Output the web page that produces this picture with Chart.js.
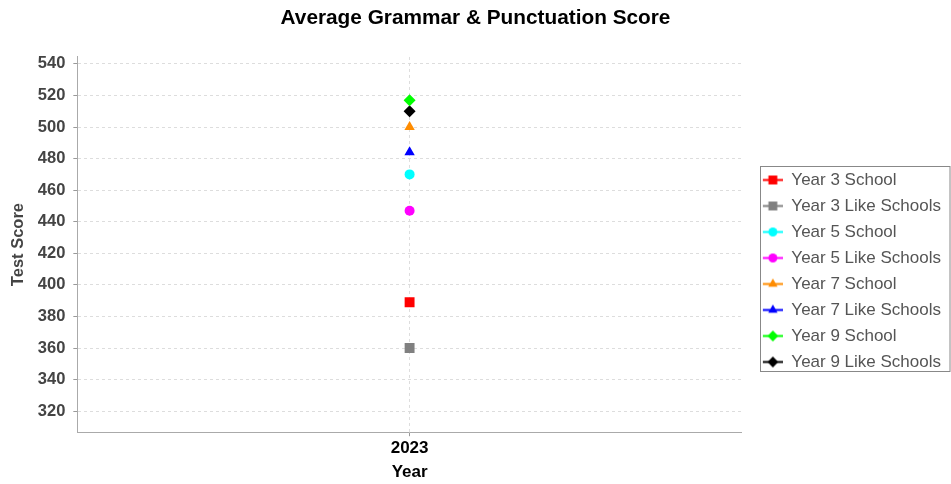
<!DOCTYPE html>
<html>
<head>
<meta charset="utf-8">
<script src="https://cdn.jsdelivr.net/npm/chart.js@4.4.1/dist/chart.umd.min.js"></script>
<style>
html, body { margin: 0; padding: 0; background: #fff; }
#wrap { width: 951px; height: 484px; }
</style>
</head>
<body>
<div id="wrap"><canvas id="myChart"></canvas></div>
<script>
const years = ['2023']
const seriesNames = ['Year 3 School', 'Year 3 Like Schools', 'Year 5 School', 'Year 5 Like Schools',
    'Year 7 School', 'Year 7 Like Schools', 'Year 9 School', 'Year 9 Like Schools']
const year3School = [389]
const year3Like = [360]
const year5School = [470]
const year5Like = [447]
const year7School = [500]
const year7Like = [484]
const year9School = [517]
const year9Like = [510]
const yTicks = [320, 340, 360, 380, 400, 420, 440, 460, 480, 500, 520, 540]

const seriesValues = [year3School, year3Like, year5School, year5Like, year7School, year7Like, year9School, year9Like]
const colors = ['#ff0000', '#808080', '#00ffff', '#ff00ff', '#ff8c00', '#0000ff', '#00ff00', '#000000']
const shapes = ['rect', 'rect', 'circle', 'circle', 'triangle', 'triangle', 'rectRot', 'rectRot']
const radii = [7, 7, 5, 5, 6, 6, 6, 6]

const FONT = "'Liberation Sans', Arial, sans-serif"

// little legend icons: a short line with the marker on it (left part left blank on purpose)
function makeIcon(i) {
    const c = document.createElement('canvas')
    c.width = 32
    c.height = 17
    const ctx = c.getContext('2d')
    ctx.strokeStyle = colors[i]
    ctx.fillStyle = colors[i]
    ctx.lineWidth = 2
    ctx.beginPath()
    ctx.moveTo(12, 8.5)
    ctx.lineTo(32, 8.5)
    ctx.stroke()
    Chart.helpers.drawPoint(ctx, { pointStyle: shapes[i], radius: radii[i] * 0.9, rotation: 0, borderWidth: 0 }, 22, 8.5)
    return c
}

const legendBox = {
    id: 'legendBox',
    afterDraw(chart) {
        const boxes = chart.legend.legendHitBoxes
        if (!boxes || !boxes.length) return
        const ctx = chart.ctx
        const left = boxes[0].left + 9
        const top = boxes[0].top - 6
        const last = boxes[boxes.length - 1]
        const bottom = last.top + last.height
        ctx.save()
        ctx.strokeStyle = '#888'
        ctx.lineWidth = 1
        ctx.strokeRect(Math.round(left) + 0.5, Math.round(top) + 0.5, 950 - Math.round(left) - 0.5, Math.round(bottom - top))
        ctx.restore()
    }
}

const datasets = seriesNames.map((name, i) => ({
    label: name,
    data: seriesValues[i],
    showLine: false,
    pointStyle: shapes[i],
    pointRadius: radii[i],
    pointHoverRadius: radii[i],
    pointBorderWidth: 0,
    backgroundColor: colors[i],
    borderColor: colors[i]
}))

new Chart(document.getElementById('myChart'), {
    type: 'line',
    data: { labels: years, datasets: datasets },
    plugins: [legendBox],
    options: {
        responsive: true,
        maintainAspectRatio: false,
        animation: false,
        layout: { padding: { left: 0, right: 0, top: 0, bottom: 0 } },
        plugins: {
            title: {
                display: true,
                text: 'Average Grammar & Punctuation Score',
                color: '#000',
                font: { family: FONT, size: 20.8, weight: 'bold' },
                padding: { top: 5.5, bottom: 26.5 }
            },
            legend: {
                position: 'right',
                title: { display: true, text: '', font: { size: 10 }, padding: { top: 0, bottom: 46 } },
                labels: {
                    usePointStyle: true,
                    pointStyleWidth: 32,
                    boxHeight: 17,
                    padding: 9,
                    color: '#555',
                    font: { family: FONT, size: 17 },
                    generateLabels(chart) {
                        return Chart.defaults.plugins.legend.labels.generateLabels(chart).map((l, i) => {
                            l.pointStyle = makeIcon(i)
                            return l
                        })
                    }
                }
            },
            tooltip: { enabled: false }
        },
        scales: {
            x: {
                type: 'category',
                offset: true,
                grid: { offset: false, color: '#ddd', tickColor: '#999', tickLength: 4 },
                border: { color: '#aaa', width: 1, dash: [3, 3] },
                ticks: { color: '#000', padding: 2, font: { family: FONT, size: 17, weight: 'bold' } },
                title: {
                    display: true,
                    text: 'Year',
                    color: '#000',
                    padding: { top: 2, bottom: 1 },
                    font: { family: FONT, size: 17, weight: 'bold' }
                }
            },
            y: {
                min: 306.7,
                max: 544.4,
                afterBuildTicks(scale) {
                    scale.ticks = yTicks.map(v => ({ value: v }))
                },
                grid: { color: '#ddd', tickColor: '#999', tickLength: 4 },
                border: { color: '#aaa', width: 1, dash: [3, 3] },
                ticks: { color: '#444', padding: 8, font: { family: FONT, size: 16.5, weight: 'bold' } },
                title: {
                    display: true,
                    text: 'Test Score',
                    color: '#444',
                    padding: { top: 9, bottom: 1 },
                    font: { family: FONT, size: 16.5, weight: 'bold' }
                }
            }
        }
    }
})
</script>
</body>
</html>
